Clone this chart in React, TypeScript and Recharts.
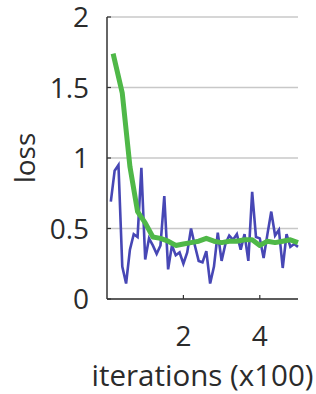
import React from 'react';
import { LineChart, Line, XAxis, YAxis, CartesianGrid } from 'recharts';

// raw loss, sampled every 10 iterations (x axis is in hundreds)
const rawIter = [
  0.1, 0.2, 0.3, 0.4, 0.5, 0.6, 0.7, 0.8, 0.9, 1.0,
  1.1, 1.2, 1.3, 1.4, 1.5, 1.6, 1.7, 1.8, 1.9, 2.0,
  2.1, 2.2, 2.3, 2.4, 2.5, 2.6, 2.7, 2.8, 2.9, 3.0,
  3.1, 3.2, 3.3, 3.4, 3.5, 3.6, 3.7, 3.8, 3.9, 4.0,
  4.1, 4.2, 4.3, 4.4, 4.5, 4.6, 4.7, 4.8, 4.9, 5.0,
];
const rawLoss = [
  0.69, 0.91, 0.95, 0.23, 0.11, 0.35, 0.46, 0.44, 0.93, 0.28,
  0.43, 0.38, 0.32, 0.38, 0.73, 0.21, 0.38, 0.31, 0.33, 0.25,
  0.33, 0.5, 0.38, 0.27, 0.26, 0.34, 0.11, 0.23, 0.47, 0.27,
  0.39, 0.45, 0.42, 0.46, 0.35, 0.46, 0.27, 0.76, 0.44, 0.43,
  0.29, 0.46, 0.62, 0.45, 0.49, 0.22, 0.46, 0.37, 0.39, 0.37,
];

// smoothed loss
const smoothIter = [
  0.16, 0.4, 0.6, 0.8, 1.0, 1.2, 1.4, 1.6, 1.8, 2.0, 2.2, 2.4, 2.6,
  2.8, 3.0, 3.2, 3.4, 3.6, 3.8, 4.0, 4.2, 4.4, 4.6, 4.8, 5.0,
];
const smoothLoss = [
  1.74, 1.46, 0.94, 0.62, 0.54, 0.44, 0.43, 0.41, 0.38, 0.39, 0.4, 0.41, 0.43,
  0.41, 0.4, 0.41, 0.41, 0.42, 0.42, 0.38, 0.41, 0.4, 0.41, 0.42, 0.4,
];

const xTicks = [2, 4];
const yTicks = [0, 0.5, 1, 1.5, 2];

const rawData = rawIter.map((it, i) => ({ it, loss: rawLoss[i] }));
const smoothData = smoothIter.map((it, i) => ({ it, loss: smoothLoss[i] }));

const FONT = "'Open Sans', sans-serif";
const TEXT = '#2b2b2b';
const AXIS = '#333';

const XTick = (props: any) => {
  const { x, y, payload } = props;
  return (
    <g>
      <line x1={x} y1={y} x2={x} y2={y - 4} stroke={AXIS} strokeWidth={1.2} />
      <text x={x} y={y + 47} textAnchor="middle" fontSize={28} fontFamily={FONT} fill={TEXT}>
        {payload.value}
      </text>
    </g>
  );
};

const YTick = (props: any) => {
  const { x, y, payload } = props;
  return (
    <g>
      <line x1={x} y1={y} x2={x + 4} y2={y} stroke={AXIS} strokeWidth={1.2} />
      <text x={x - 18} y={y + 10} textAnchor="end" fontSize={28} fontFamily={FONT} fill={TEXT}>
        {payload.value}
      </text>
    </g>
  );
};

export default function App() {
  return (
    <div>
      <style>{'body{margin:0;}'}</style>
      <LineChart width={316} height={394} margin={{ top: 17, right: 18, left: 0, bottom: 0 }}>
        <CartesianGrid horizontal vertical={false} stroke="#c8c8c8" strokeWidth={1.5} />
        <XAxis
          type="number"
          dataKey="it"
          domain={[0, 5]}
          ticks={xTicks}
          height={95}
          tickSize={0}
          tickMargin={0}
          tick={<XTick />}
          stroke={AXIS}
          strokeWidth={1.5}
          allowDuplicatedCategory={false}
          label={{
            value: 'iterations (x100)',
            position: 'insideBottom',
            offset: 8,
            style: { fontSize: 29.5, fontFamily: FONT, fill: TEXT },
          }}
        />
        <YAxis
          type="number"
          domain={[0, 2]}
          ticks={yTicks}
          width={107}
          tickSize={0}
          tickMargin={0}
          tick={<YTick />}
          stroke={AXIS}
          strokeWidth={1.5}
          label={{
            value: 'loss',
            angle: -90,
            position: 'insideLeft',
            offset: 25,
            style: { fontSize: 28, fontFamily: FONT, fill: TEXT, textAnchor: 'middle' },
          }}
        />
        <Line
          data={rawData}
          dataKey="loss"
          type="linear"
          stroke="#4747b5"
          strokeWidth={2.6}
          dot={false}
          isAnimationActive={false}
        />
        <Line
          data={smoothData}
          dataKey="loss"
          type="linear"
          stroke="#4fb848"
          strokeWidth={5}
          dot={false}
          strokeLinejoin="round"
          isAnimationActive={false}
        />
      </LineChart>
    </div>
  );
}
